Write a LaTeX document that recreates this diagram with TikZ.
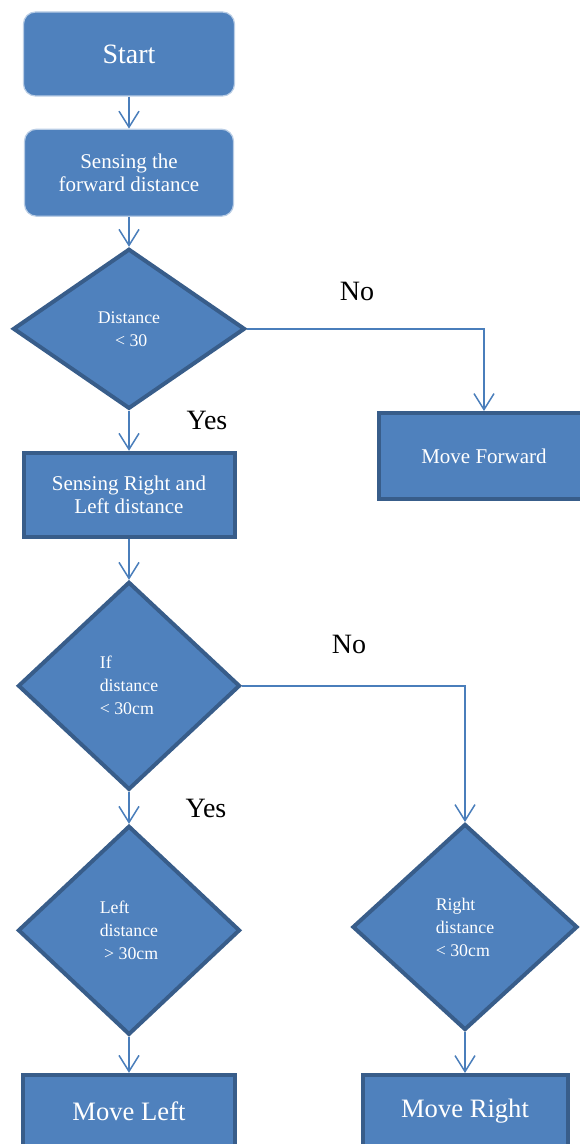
\documentclass[tikz,border=0pt]{standalone}
\usepackage{fontspec}
\setmainfont{Liberation Serif}
\usepackage{xcolor}
\usepackage{tikz}
\usetikzlibrary{arrows.meta, positioning, shapes.geometric}

\definecolor{boxfill}{RGB}{79,129,189}
\definecolor{boxedge}{RGB}{56,93,138}
\definecolor{lineblue}{RGB}{74,126,187}
\definecolor{softedge}{RGB}{185,205,229}

\begin{document}
\begin{tikzpicture}[
    x=0.5pt, y=-0.5pt,
    node distance=16pt,
    roundbox/.style={draw=softedge, line width=0.6pt, rounded corners=6pt, fill=boxfill,
                     text=white, align=center, minimum width=105pt, minimum height=#1},
    sqbox/.style={draw=boxedge, line width=2pt, fill=boxfill, text=white, align=center,
                  minimum width=105.5pt, minimum height=#1},
    decision/.style={diamond, draw=boxedge, line width=2pt, fill=boxfill, text=white,
                     inner sep=0pt, align=left, minimum width=111pt, minimum height=#1,
                     font=\fontsize{8.9}{11.5}\selectfont},
    boxtext/.style={font=\fontsize{10.5}{11.5}\selectfont},
    answer/.style={font=\fontsize{14}{16}\selectfont},
    arrow/.style={-{Straight Barb[length=8pt, width=10pt]}, line width=0.75pt, draw=lineblue},
]
\useasboundingbox (0,0) rectangle (579,1144);

% main column
\node[roundbox=42pt, minimum width=105.5pt, font=\fontsize{14}{16}\selectfont] (start) at (129,54) {Start};
\node[roundbox=43.5pt, minimum width=104.5pt, boxtext, below=16pt of start] (sensefwd) {Sensing the\\forward distance};
\node[decision=80pt, minimum width=116pt, align=center, below=15pt of sensefwd] (checkfwd) {Distance\\\ < 30};
\node[sqbox=42pt, boxtext, below=20pt of checkfwd] (senselr) {Sensing Right and\\Left distance};
\node[decision=104pt, below=20.5pt of senselr] (checkif) {If\\distance\\< 30cm};
\node[decision=104.5pt, below=16pt of checkif] (checkleft) {Left\\distance\\\ > 30cm};
\node[sqbox=36pt, minimum width=106pt, font=\fontsize{13.3}{15}\selectfont, below=18pt of checkleft] (moveleft) {Move Left};

% right side
\node[sqbox=43pt, minimum width=105pt, boxtext] (movefwd) at (484,456) {Move Forward};
\node[decision=103pt, minimum width=112.5pt] (checkright) at (465,927) {Right\\distance\\< 30cm};
\node[sqbox=36pt, minimum width=102.5pt, font=\fontsize{13.3}{15}\selectfont] (moveright) at (465,1111) {Move Right};

% answers
\node[answer] (no1) at (357,291) {No};
\node[answer] (yes1) at (207,420) {Yes};
\node[answer] (no2) at (349,644) {No};
\node[answer] (yes2) at (206,808) {Yes};

\draw[arrow] (start.south) -- (sensefwd.north);
\draw[arrow] (sensefwd.south) -- (checkfwd.north);
\draw[arrow] (checkfwd.south) -- (senselr.north);
\draw[arrow] (checkfwd.east) -| (movefwd.north);
\draw[arrow] (senselr.south) -- (checkif.north);
\draw[arrow] (checkif.south) -- (checkleft.north);
\draw[arrow] (checkif.east) -| (checkright.north);
\draw[arrow] (checkleft.south) -- (moveleft.north);
\draw[arrow] (checkright.south) -- (moveright.north);
\end{tikzpicture}
\end{document}
